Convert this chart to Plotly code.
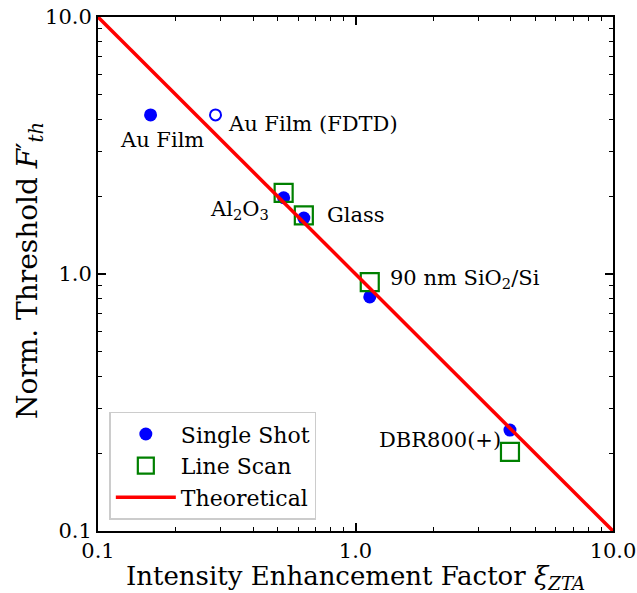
import numpy as np
import plotly.graph_objects as go

# Data
single_x = [0.16, 0.526, 0.63, 1.136, 3.98]
single_y = [4.16, 1.98, 1.65, 0.814, 0.247]
fdtd_x = [0.286]
fdtd_y = [4.16]
scan_x = [0.526, 0.63, 1.136, 3.98]
scan_y = [2.07, 1.69, 0.93, 0.203]
theory_x = [0.1, 10.0]
theory_y = [1.0 / v for v in theory_x]

labels = ["Au Film", "Au Film (FDTD)", "Al<sub>2</sub>O<sub>3</sub>", "Glass",
          "90 nm SiO<sub>2</sub>/Si", "DBR800(+)"]
label_x = [0.16, 0.286, 0.526, 0.63, 1.136, 3.98]
label_y = [4.16, 4.16, 1.98, 1.69, 0.93, 0.247]

major_ticks = [0.1, 1.0, 10.0]
major_text = ["0.1", "1.0", "10.0"]
minor_ticks = [m * d for d in [0.1, 1.0] for m in range(2, 10)]

x_title = "Intensity Enhancement Factor <i>ξ<sub>ZTA</sub></i>"
y_title = "Norm. Threshold <i>F</i>′<sub><i>th</i></sub>"

FONT = "DejaVu Serif"

fig = go.Figure()
fig.add_trace(go.Scatter(x=single_x, y=single_y, mode="markers", name="Single Shot",
                         marker=dict(color="blue", size=13, symbol="circle")))
fig.add_trace(go.Scatter(x=scan_x, y=scan_y, mode="markers", name="Line Scan",
                         marker=dict(color="rgba(0,0,0,0)", size=18, symbol="square",
                                     line=dict(color="green", width=2.2))))
fig.add_trace(go.Scatter(x=theory_x, y=theory_y, mode="lines", name="Theoretical",
                         line=dict(color="red", width=3.5)))
fig.add_trace(go.Scatter(x=fdtd_x, y=fdtd_y, mode="markers", showlegend=False,
                         marker=dict(color="white", size=11, symbol="circle",
                                     line=dict(color="blue", width=2))))

# annotation offsets (pixels): (xanchor, xshift, yshift)
offs = [("center", 11, -25), ("left", 10, -9), ("right", -13, -12),
        ("left", 21, 0), ("left", 18, 3), ("right", -7, -10)]
for t, xv, yv, (xa, xs, ys) in zip(labels, label_x, label_y, offs):
    fig.add_annotation(x=np.log10(xv), y=np.log10(yv), text=t, showarrow=False,
                       xanchor=xa, yanchor="middle", xshift=xs, yshift=ys,
                       font=dict(family=FONT, size=21, color="black"))

# axis titles as paper-positioned annotations
fig.add_annotation(x=0.5, y=0, xref="paper", yref="paper", text=x_title, showarrow=False,
                   xanchor="center", yanchor="middle", yshift=-46,
                   font=dict(family=FONT, size=26, color="black"))
fig.add_annotation(x=0, y=0.5, xref="paper", yref="paper", text=y_title, showarrow=False,
                   xanchor="center", yanchor="middle", xshift=-69, yshift=3, textangle=-90,
                   font=dict(family=FONT, size=28, color="black"))

axis_common = dict(type="log", showgrid=False, zeroline=False, showline=True,
                   linecolor="black", linewidth=2, mirror="ticks", automargin=False,
                   ticks="inside", ticklen=8, tickwidth=1.5, tickcolor="black",
                   tickmode="array", tickvals=major_ticks, ticktext=major_text,
                   ticklabeloverflow="allow",
                   tickfont=dict(family=FONT, size=21, color="black"),
                   minor=dict(ticks="inside", ticklen=4, tickwidth=1.2, tickcolor="black",
                              tickmode="array", tickvals=minor_ticks, showgrid=False))

fig.update_xaxes(range=[-1, 1], **axis_common)
fig.update_yaxes(range=[-1, 1], **axis_common)

fig.update_layout(width=637, height=593, plot_bgcolor="white", paper_bgcolor="white",
                  margin=dict(l=98, r=24, t=17, b=62),
                  legend=dict(x=0.022, y=0.022, xanchor="left", yanchor="bottom",
                              bgcolor="white", bordercolor="#cccccc", borderwidth=1.5,
                              font=dict(family=FONT, size=22, color="black"),
                              itemwidth=60, tracegroupgap=0))

fig.write_html("out.html")
